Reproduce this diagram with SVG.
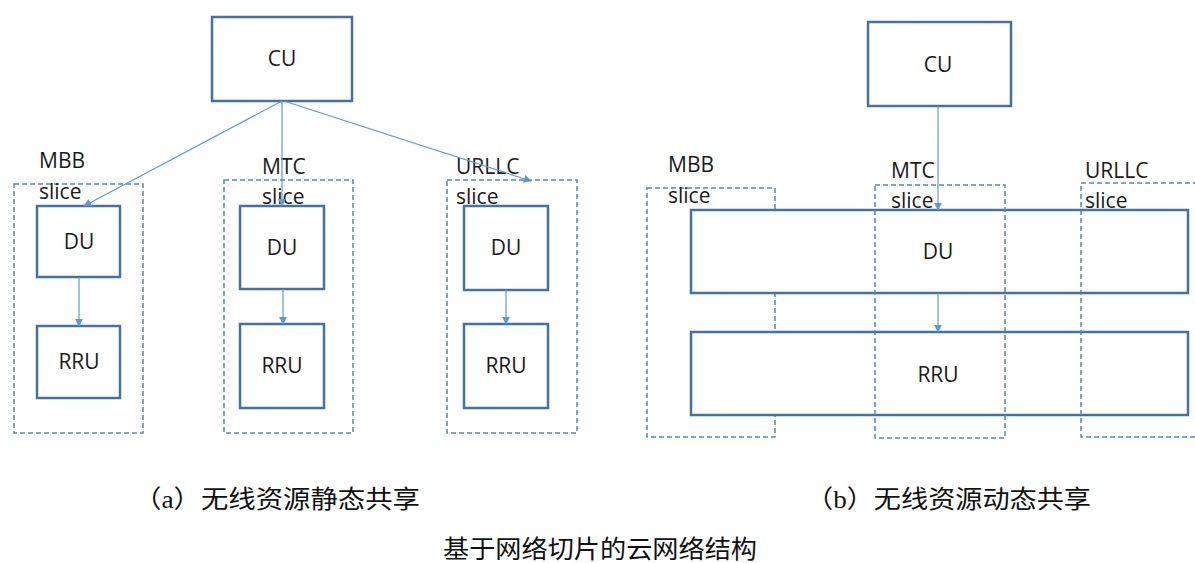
<svg xmlns="http://www.w3.org/2000/svg" width="1195" height="563" viewBox="0 0 1195 563">
<style>
.box{fill:#fff;stroke:#4472a4;stroke-width:2.5}
.slice{fill:none;stroke:#5a86b4;stroke-width:1.5;stroke-dasharray:5,3}
.lbl{font-family:"Open Sans","Noto Sans",sans-serif;font-size:21px;fill:#1a1a1a}
.c{text-anchor:middle}
.conn{stroke:#5b9bd5;stroke-width:1.2;fill:none;marker-end:url(#ah)}
.cap{font-family:"Liberation Serif","Noto Sans CJK SC",serif;font-size:25px;fill:#111}
</style>
<defs>
<marker id="ah" viewBox="0 0 10 10" refX="9" refY="5" markerWidth="8" markerHeight="8" markerUnits="userSpaceOnUse" orient="auto">
<path d="M0,0 L10,5 L0,10 z" fill="#5b9bd5"/>
</marker>
</defs>
<rect width="1195" height="563" fill="#fff"/>

<!-- panel a -->
<g id="a-slice-mbb"><rect class="slice" x="14" y="184" width="129" height="249"/><text class="lbl" x="39" y="168">MBB</text><text class="lbl" x="39" y="199">slice</text></g>
<g id="a-slice-mtc"><rect class="slice" x="224" y="180" width="129" height="253"/><text class="lbl" x="262" y="174">MTC</text><text class="lbl" x="262" y="204">slice</text></g>
<g id="a-slice-urllc"><rect class="slice" x="447" y="180" width="130" height="253"/><text class="lbl" x="456" y="174">URLLC</text><text class="lbl" x="456" y="204">slice</text></g>

<g id="a-cu"><rect class="box" x="212" y="17" width="140" height="84"/><text class="lbl c" x="282" y="66">CU</text></g>
<g id="a-du-mbb"><rect class="box" x="37" y="206" width="83" height="71"/><text class="lbl c" x="79" y="249">DU</text></g>
<g id="a-rru-mbb"><rect class="box" x="37" y="326" width="83" height="72"/><text class="lbl c" x="79" y="369">RRU</text></g>
<g id="a-du-mtc"><rect class="box" x="240" y="206" width="84" height="83"/><text class="lbl c" x="282" y="255">DU</text></g>
<g id="a-rru-mtc"><rect class="box" x="240" y="324" width="84" height="84"/><text class="lbl c" x="282" y="373">RRU</text></g>
<g id="a-du-urllc"><rect class="box" x="464" y="206" width="84" height="84"/><text class="lbl c" x="506" y="255">DU</text></g>
<g id="a-rru-urllc"><rect class="box" x="464" y="324" width="84" height="84"/><text class="lbl c" x="506" y="373">RRU</text></g>

<!-- panel b -->
<g id="b-slice-mbb"><rect class="slice" x="647" y="188" width="128" height="249"/><text class="lbl" x="668" y="172">MBB</text><text class="lbl" x="668" y="203">slice</text></g>
<g id="b-cu"><rect class="box" x="868" y="22" width="143" height="84"/><text class="lbl c" x="938" y="72">CU</text></g>
<g id="b-du"><rect class="box" x="691" y="210" width="497" height="83"/><text class="lbl c" x="938" y="259">DU</text></g>
<g id="b-rru"><rect class="box" x="691" y="332" width="497" height="83"/><text class="lbl c" x="938" y="382">RRU</text></g>
<g id="b-slice-mtc"><rect class="slice" x="875" y="185" width="130" height="253"/><text class="lbl" x="891" y="178">MTC</text><text class="lbl" x="891" y="208">slice</text></g>
<g id="b-slice-urllc"><rect class="slice" x="1081" y="183" width="130" height="254"/><text class="lbl" x="1085" y="178">URLLC</text><text class="lbl" x="1085" y="208">slice</text></g>

<g id="connectors">
<line class="conn" x1="282" y1="101" x2="84" y2="206"/>
<line class="conn" x1="282" y1="101" x2="282" y2="206"/>
<line class="conn" x1="284" y1="101" x2="531" y2="181"/>
<line class="conn" x1="79" y1="277" x2="79" y2="326"/>
<line class="conn" x1="283" y1="289" x2="283" y2="324"/>
<line class="conn" x1="506" y1="290" x2="506" y2="324"/>
<line class="conn" x1="938" y1="106" x2="938" y2="210"/>
<line class="conn" x1="938" y1="293" x2="938" y2="332"/>
</g>

<g id="captions">
<text class="cap" x="134" y="508" textLength="286" lengthAdjust="spacingAndGlyphs">（a）无线资源静态共享</text>
<text class="cap" x="806" y="508" textLength="285" lengthAdjust="spacingAndGlyphs">（b）无线资源动态共享</text>
<text class="cap" x="443" y="558" textLength="314" lengthAdjust="spacingAndGlyphs">基于网络切片的云网络结构</text>
</g>
</svg>
